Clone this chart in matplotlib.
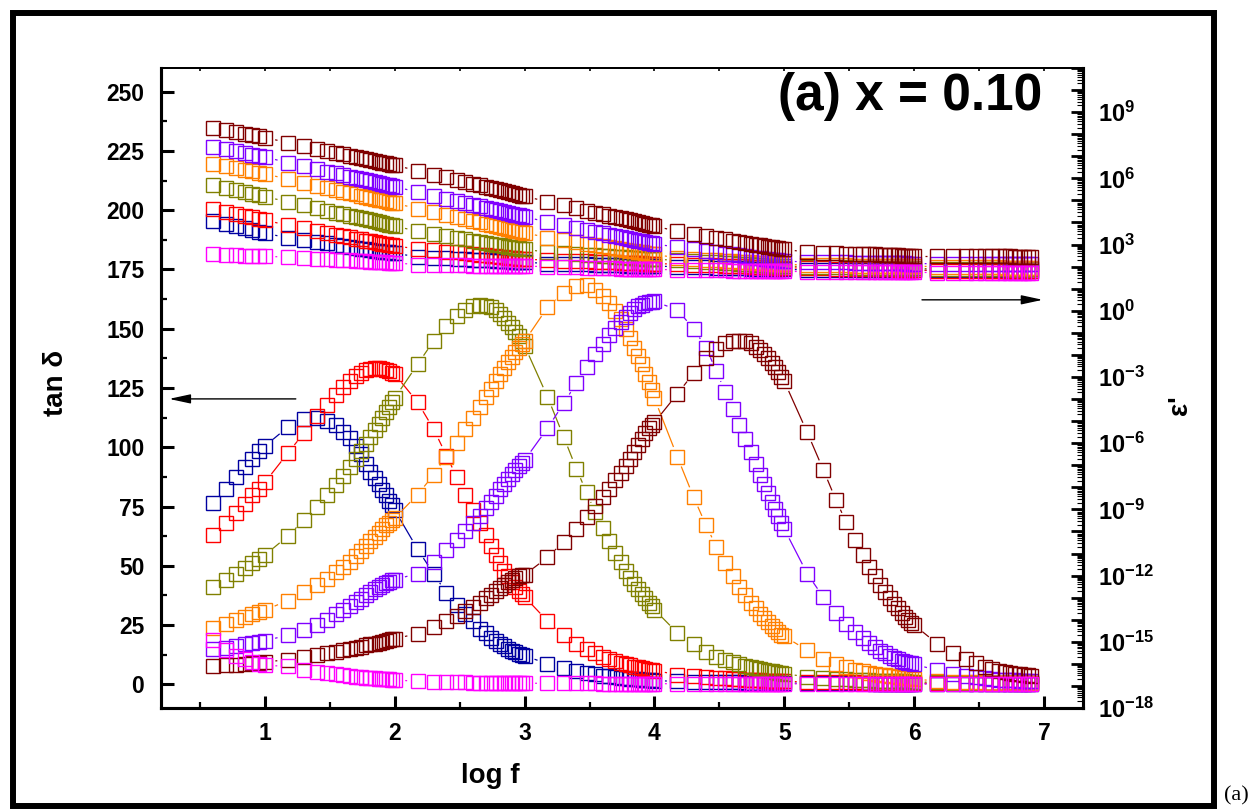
import numpy as np
import matplotlib
matplotlib.use("Agg")
import matplotlib.pyplot as plt
from matplotlib.collections import LineCollection
from matplotlib.patches import Rectangle
from matplotlib.ticker import FixedLocator, FuncFormatter

plt.rcParams["font.family"] = ["Liberation Sans", "DejaVu Sans"]
plt.rcParams["font.weight"] = "bold"
plt.rcParams["mathtext.fontset"] = "custom"
plt.rcParams["mathtext.rm"] = "Liberation Sans:bold"
plt.rcParams["mathtext.bf"] = "Liberation Sans:bold"
plt.rcParams["mathtext.it"] = "Liberation Sans:bold"

# ---- frequency grid (Hz) ----
first_decade = [4, 5, 6, 7, 8, 9, 10]
decade_steps = [1.5, 2, 2.5, 3, 3.5, 4, 4.5, 5, 5.5, 6, 6.5, 7, 7.5, 8, 8.5, 9, 9.5, 10]
last_steps = [1.5, 2, 2.5, 3, 3.5, 4, 4.5, 5, 5.5, 6, 6.5, 7, 7.5, 8]
freq = list(first_decade)
for k in [1, 2, 3, 4, 5]:
    freq += [s * 10 ** k for s in decade_steps]
freq += [s * 1e6 for s in last_steps]
log_f = np.log10(freq)

# ---- tan delta (left axis) ----
tan_blue = [76.6, 82.3, 87.3, 91.5, 95.0, 98.4, 100.5,
            108.5, 112.0, 112.5, 111.0, 109.5, 106.5, 104.0, 100.5, 97.0, 93.0, 89.5, 87.0, 84.5, 82.0, 80.0, 77.5, 75.5, 73.5,
            57.0, 46.5, 38.5, 33.5, 29.5, 26.5, 23.5, 21.5, 19.7, 18.3, 17.0, 16.0, 15.0, 14.2, 13.5, 12.9, 12.4, 12.0,
            8.7, 6.9, 5.6, 4.8, 4.2, 3.7, 3.3, 3.0, 2.8, 2.6, 2.4, 2.3, 2.1, 2.0, 1.9, 1.8, 1.7, 1.6,
            1.2, 1.1, 1.0, 0.95, 0.9, 0.85, 0.8, 0.75, 0.7, 0.68, 0.65, 0.62, 0.6, 0.58, 0.56, 0.54, 0.52, 0.5,
            0.45, 0.42, 0.4, 0.38, 0.36, 0.35, 0.34, 0.33, 0.32, 0.31, 0.3, 0.3, 0.29, 0.28, 0.28, 0.27, 0.27, 0.26,
            0.24, 0.23, 0.22, 0.21, 0.21, 0.2, 0.2, 0.19, 0.19, 0.19, 0.18, 0.18, 0.18, 0.17]
tan_red = [62.9, 67.9, 72.4, 76.0, 79.8, 82.6, 85.2,
           97.5, 106.0, 113.0, 118.0, 122.0, 125.5, 128.0, 130.0, 131.5, 132.5, 133.0, 133.3, 133.3, 133.0, 132.8, 132.3, 131.5, 130.8,
           119.0, 107.5, 96.5, 87.5, 80.0, 73.5, 68.0, 63.0, 58.5, 54.5, 51.0, 48.0, 45.5, 43.2, 41.2, 39.5, 38.0, 36.9,
           26.7, 20.7, 17.2, 14.8, 13.0, 11.7, 10.6, 9.8, 9.1, 8.5, 8.0, 7.5, 7.1, 6.8, 6.5, 6.2, 6.0, 5.8,
           4.1, 3.4, 3.0, 2.7, 2.5, 2.3, 2.1, 2.0, 1.9, 1.8, 1.7, 1.6, 1.5, 1.45, 1.4, 1.35, 1.3, 1.25,
           1.0, 0.9, 0.85, 0.8, 0.76, 0.72, 0.7, 0.68, 0.66, 0.64, 0.63, 0.62, 0.61, 0.6, 0.6, 0.59, 0.59, 0.58,
           0.5, 0.46, 0.44, 0.42, 0.41, 0.4, 0.39, 0.38, 0.38, 0.37, 0.37, 0.36, 0.36, 0.35]
tan_olive = [41.1, 43.9, 46.7, 48.9, 51.2, 52.9, 54.5,
             62.5, 69.3, 75.0, 80.0, 84.0, 88.0, 91.5, 95.0, 98.5, 101.5, 104.5, 107.2, 110.0, 112.5, 114.8, 117.0, 119.0, 120.8,
             135.0, 145.0, 151.0, 155.3, 158.0, 159.5, 160.0, 159.8, 159.0, 157.7, 156.2, 154.5, 152.6, 150.7, 148.8, 146.8, 144.8, 142.8,
             121.3, 104.4, 91.0, 81.0, 72.5, 66.0, 60.5, 55.5, 51.5, 48.0, 45.0, 42.3, 40.0, 38.0, 36.2, 34.5, 33.0, 31.5,
             21.7, 16.9, 13.7, 11.6, 10.3, 9.3, 8.5, 7.9, 7.3, 6.8, 6.4, 6.0, 5.7, 5.4, 5.1, 4.9, 4.7, 4.5,
             3.1, 2.6, 2.3, 2.1, 1.9, 1.8, 1.7, 1.6, 1.5, 1.45, 1.4, 1.35, 1.3, 1.25, 1.2, 1.15, 1.1, 1.05,
             0.8, 0.72, 0.67, 0.63, 0.6, 0.58, 0.56, 0.55, 0.54, 0.53, 0.52, 0.51, 0.5, 0.5]
tan_orange = [23.8, 25.6, 27.0, 28.4, 29.6, 30.5, 31.3,
              35.3, 39.0, 41.8, 44.6, 47.2, 49.6, 51.8, 54.0, 56.2, 58.4, 60.5, 62.3, 64.0, 65.6, 67.0, 68.2, 69.2, 70.2,
              80.0, 88.5, 96.0, 102.0, 107.5, 112.5, 117.0, 121.0, 124.5, 127.8, 130.8, 133.5, 136.0, 138.2, 140.2, 142.0, 143.5, 144.8,
              159.0, 165.2, 168.0, 168.3, 166.5, 164.0, 161.0, 157.5, 154.0, 150.0, 146.0, 142.0, 138.5, 135.0, 131.0, 127.5, 124.0, 120.6,
              96.0, 79.0, 67.0, 58.0, 51.0, 45.6, 41.2, 37.6, 34.5, 32.0, 29.8, 27.9, 26.2, 24.7, 23.3, 22.1, 21.0, 20.2,
              14.4, 10.8, 8.7, 7.2, 6.2, 5.5, 4.9, 4.5, 4.1, 3.8, 3.5, 3.3, 3.1, 2.95, 2.8, 2.65, 2.5, 2.4,
              1.2, 1.0, 0.9, 0.8, 0.75, 0.7, 0.65, 0.6, 0.55, 0.5, 0.5, 0.45, 0.45, 0.4]
tan_violet = [14.7, 15.5, 16.2, 16.8, 17.4, 17.9, 18.4,
              20.7, 22.8, 25.0, 27.3, 29.5, 31.3, 33.0, 34.6, 36.1, 37.5, 38.8, 40.0, 41.0, 41.9, 42.7, 43.3, 43.8, 44.2,
              46.7, 51.6, 56.5, 60.8, 64.5, 68.0, 71.2, 74.2, 77.0, 79.6, 82.2, 84.6, 86.8, 88.8, 90.6, 92.2, 93.5, 94.6,
              108.0, 118.5, 127.0, 134.0, 139.5, 143.6, 147.2, 150.2, 152.8, 155.0, 156.8, 158.2, 159.4, 160.2, 160.8, 161.2, 161.4, 161.5,
              158.0, 150.0, 142.0, 132.0, 123.5, 116.0, 109.5, 103.5, 98.0, 93.0, 88.5, 84.3, 80.5, 77.0, 73.8, 70.8, 68.0, 65.5,
              46.7, 36.7, 30.0, 25.6, 22.2, 19.5, 17.3, 15.6, 14.2, 13.0, 12.0, 11.2, 10.5, 10.0, 9.5, 9.1, 8.8, 8.5,
              5.9, 4.5, 3.5, 2.9, 2.5, 2.2, 2.0, 1.9, 1.8, 1.7, 1.6, 1.5, 1.45, 1.4]
tan_wine = [7.6, 8.0, 8.3, 8.6, 8.9, 9.1, 9.4,
            10.4, 11.4, 12.2, 13.0, 13.7, 14.3, 14.9, 15.4, 15.9, 16.4, 16.8, 17.2, 17.6, 18.0, 18.3, 18.6, 18.9, 19.2,
            21.4, 24.2, 26.5, 28.7, 30.8, 32.7, 34.5, 36.2, 37.8, 39.4, 40.8, 42.1, 43.2, 44.1, 44.9, 45.5, 45.9, 46.2,
            53.5, 60.2, 65.5, 70.6, 75.2, 79.0, 82.6, 86.0, 89.2, 92.2, 95.2, 98.2, 101.0, 103.6, 106.0, 108.0, 109.5, 110.5,
            122.5, 131.2, 137.5, 141.3, 143.8, 144.8, 145.0, 144.7, 143.8, 142.5, 141.0, 139.3, 137.5, 135.6, 133.7, 131.8, 129.8, 127.8,
            106.3, 90.4, 77.7, 68.3, 60.8, 54.5, 49.5, 45.5, 42.0, 39.0, 36.3, 34.0, 32.0, 30.2, 28.6, 27.2, 26.0, 25.0,
            17.2, 13.0, 10.6, 8.8, 7.4, 6.4, 5.7, 5.2, 4.8, 4.5, 4.2, 4.0, 3.8, 3.7]
tan_magenta = [18.5, 14.5, 12.0, 10.5, 9.5, 8.7, 8.0,
               7.6, 6.2, 5.3, 4.7, 4.2, 3.8, 3.5, 3.2, 3.0, 2.8, 2.6, 2.5, 2.4, 2.3, 2.2, 2.1, 2.0, 1.9,
               1.2, 1.0, 0.9, 0.85, 0.8, 0.75, 0.7, 0.68, 0.65, 0.62, 0.6, 0.58, 0.56, 0.54, 0.52, 0.5, 0.48, 0.46,
               0.4, 0.38, 0.36, 0.35, 0.34, 0.33, 0.32, 0.31, 0.3, 0.3, 0.29, 0.29, 0.28, 0.28, 0.27, 0.27, 0.26, 0.26,
               0.24, 0.23, 0.22, 0.22, 0.21, 0.21, 0.2, 0.2, 0.2, 0.19, 0.19, 0.19, 0.18, 0.18, 0.18, 0.18, 0.17, 0.17,
               0.16, 0.16, 0.15, 0.15, 0.15, 0.14, 0.14, 0.14, 0.14, 0.13, 0.13, 0.13, 0.13, 0.13, 0.12, 0.12, 0.12, 0.12,
               0.11, 0.11, 0.11, 0.1, 0.1, 0.1, 0.1, 0.1, 0.1, 0.09, 0.09, 0.09, 0.09, 0.09]

# ---- log10 of epsilon' (right axis) ----
eps_log_blue = [4.07, 3.93, 3.82, 3.73, 3.65, 3.58, 3.51,
                3.31, 3.20, 3.12, 3.05, 2.99, 2.94, 2.90, 2.86, 2.82, 2.79, 2.76, 2.73, 2.71, 2.68, 2.66, 2.64, 2.62, 2.60,
                2.45, 2.41, 2.38, 2.36, 2.34, 2.32, 2.31, 2.29, 2.28, 2.27, 2.26, 2.25, 2.24, 2.23, 2.22, 2.21, 2.21, 2.20,
                2.14, 2.12, 2.11, 2.10, 2.09, 2.08, 2.07, 2.06, 2.06, 2.05, 2.05, 2.04, 2.04, 2.03, 2.03, 2.03, 2.02, 2.02,
                2.00, 1.98, 1.97, 1.95, 1.94, 1.93, 1.92, 1.92, 1.91, 1.90, 1.90, 1.89, 1.89, 1.88, 1.88, 1.88, 1.87, 1.87,
                1.86, 1.86, 1.86, 1.85, 1.85, 1.85, 1.85, 1.85, 1.85, 1.85, 1.84, 1.84, 1.84, 1.84, 1.84, 1.84, 1.84, 1.84,
                1.83, 1.83, 1.83, 1.83, 1.83, 1.83, 1.83, 1.82, 1.82, 1.82, 1.82, 1.82, 1.82, 1.82]
eps_log_red = [4.60, 4.48, 4.38, 4.30, 4.23, 4.17, 4.11,
               3.87, 3.73, 3.62, 3.53, 3.45, 3.38, 3.33, 3.27, 3.23, 3.18, 3.14, 3.11, 3.07, 3.04, 3.01, 2.98, 2.96, 2.93,
               2.81, 2.74, 2.68, 2.64, 2.60, 2.56, 2.53, 2.51, 2.48, 2.46, 2.44, 2.42, 2.40, 2.39, 2.37, 2.36, 2.34, 2.33,
               2.30, 2.27, 2.25, 2.24, 2.22, 2.21, 2.20, 2.19, 2.18, 2.18, 2.17, 2.16, 2.16, 2.15, 2.14, 2.14, 2.13, 2.13,
               2.12, 2.09, 2.07, 2.06, 2.04, 2.03, 2.02, 2.01, 2.00, 2.00, 1.99, 1.98, 1.98, 1.97, 1.96, 1.96, 1.95, 1.95,
               1.93, 1.92, 1.91, 1.90, 1.89, 1.89, 1.88, 1.88, 1.88, 1.87, 1.87, 1.87, 1.86, 1.86, 1.86, 1.85, 1.85, 1.85,
               1.82, 1.82, 1.81, 1.81, 1.81, 1.80, 1.80, 1.80, 1.80, 1.79, 1.79, 1.79, 1.79, 1.79]
eps_log_olive = [5.70, 5.57, 5.47, 5.38, 5.30, 5.23, 5.17,
                 4.94, 4.77, 4.64, 4.54, 4.45, 4.37, 4.30, 4.24, 4.19, 4.14, 4.09, 4.05, 4.01, 3.97, 3.94, 3.90, 3.87, 3.84,
                 3.60, 3.48, 3.38, 3.30, 3.23, 3.18, 3.13, 3.08, 3.04, 3.00, 2.97, 2.93, 2.91, 2.88, 2.85, 2.83, 2.80, 2.78,
                 2.66, 2.61, 2.57, 2.54, 2.51, 2.49, 2.47, 2.45, 2.43, 2.42, 2.41, 2.39, 2.38, 2.37, 2.36, 2.35, 2.34, 2.33,
                 2.29, 2.25, 2.22, 2.19, 2.17, 2.15, 2.13, 2.12, 2.11, 2.09, 2.08, 2.07, 2.06, 2.05, 2.04, 2.04, 2.03, 2.02,
                 2.00, 1.99, 1.98, 1.97, 1.96, 1.96, 1.95, 1.95, 1.95, 1.94, 1.94, 1.94, 1.93, 1.93, 1.93, 1.92, 1.92, 1.92,
                 1.90, 1.90, 1.89, 1.89, 1.89, 1.88, 1.88, 1.88, 1.88, 1.87, 1.87, 1.87, 1.87, 1.87]
eps_log_orange = [6.66, 6.55, 6.46, 6.39, 6.32, 6.26, 6.21,
                  5.96, 5.79, 5.67, 5.56, 5.47, 5.40, 5.33, 5.27, 5.21, 5.16, 5.12, 5.08, 5.04, 5.00, 4.96, 4.93, 4.90, 4.87,
                  4.63, 4.46, 4.34, 4.23, 4.14, 4.07, 4.00, 3.94, 3.88, 3.83, 3.79, 3.75, 3.71, 3.67, 3.63, 3.60, 3.57, 3.54,
                  3.31, 3.19, 3.11, 3.03, 2.97, 2.92, 2.87, 2.83, 2.79, 2.75, 2.72, 2.69, 2.67, 2.64, 2.62, 2.59, 2.57, 2.55,
                  2.40, 2.35, 2.32, 2.29, 2.27, 2.25, 2.23, 2.21, 2.20, 2.18, 2.17, 2.16, 2.15, 2.14, 2.13, 2.12, 2.11, 2.10,
                  2.08, 2.07, 2.06, 2.06, 2.05, 2.05, 2.05, 2.04, 2.04, 2.04, 2.03, 2.03, 2.03, 2.03, 2.03, 2.02, 2.02, 2.02,
                  2.00, 1.99, 1.98, 1.98, 1.97, 1.97, 1.97, 1.96, 1.96, 1.96, 1.96, 1.95, 1.95, 1.95]
eps_log_violet = [7.42, 7.31, 7.22, 7.15, 7.08, 7.02, 6.97,
                  6.71, 6.54, 6.42, 6.31, 6.22, 6.15, 6.08, 6.02, 5.96, 5.91, 5.87, 5.83, 5.79, 5.75, 5.71, 5.68, 5.65, 5.62,
                  5.38, 5.21, 5.08, 4.97, 4.88, 4.80, 4.73, 4.67, 4.61, 4.56, 4.51, 4.47, 4.43, 4.39, 4.36, 4.32, 4.29, 4.26,
                  4.02, 3.87, 3.75, 3.66, 3.58, 3.51, 3.45, 3.39, 3.34, 3.30, 3.26, 3.22, 3.18, 3.15, 3.12, 3.09, 3.06, 3.03,
                  2.88, 2.78, 2.71, 2.65, 2.59, 2.55, 2.51, 2.47, 2.44, 2.41, 2.39, 2.36, 2.34, 2.32, 2.30, 2.28, 2.26, 2.24,
                  2.22, 2.21, 2.20, 2.19, 2.18, 2.18, 2.17, 2.17, 2.17, 2.16, 2.16, 2.16, 2.15, 2.15, 2.15, 2.14, 2.14, 2.14,
                  2.13, 2.13, 2.12, 2.12, 2.12, 2.11, 2.11, 2.11, 2.11, 2.11, 2.10, 2.10, 2.10, 2.10]
eps_log_wine = [8.29, 8.18, 8.10, 8.02, 7.96, 7.90, 7.85,
                7.62, 7.46, 7.34, 7.24, 7.16, 7.09, 7.02, 6.97, 6.92, 6.87, 6.82, 6.78, 6.75, 6.71, 6.68, 6.65, 6.62, 6.59,
                6.35, 6.17, 6.04, 5.93, 5.83, 5.75, 5.68, 5.61, 5.56, 5.50, 5.45, 5.41, 5.37, 5.33, 5.29, 5.26, 5.22, 5.19,
                4.94, 4.77, 4.64, 4.54, 4.45, 4.37, 4.30, 4.24, 4.19, 4.14, 4.09, 4.05, 4.01, 3.97, 3.94, 3.90, 3.87, 3.84,
                3.60, 3.48, 3.38, 3.30, 3.23, 3.18, 3.13, 3.08, 3.04, 3.00, 2.97, 2.93, 2.91, 2.88, 2.85, 2.83, 2.80, 2.78,
                2.66, 2.63, 2.61, 2.59, 2.58, 2.57, 2.56, 2.55, 2.54, 2.53, 2.52, 2.51, 2.51, 2.50, 2.50, 2.49, 2.49, 2.48,
                2.48, 2.48, 2.47, 2.47, 2.47, 2.46, 2.46, 2.46, 2.46, 2.45, 2.45, 2.45, 2.45, 2.45]
eps_log_magenta = [2.55, 2.53, 2.51, 2.50, 2.49, 2.48, 2.47,
                   2.43, 2.39, 2.36, 2.34, 2.31, 2.30, 2.28, 2.26, 2.25, 2.24, 2.23, 2.22, 2.21, 2.20, 2.19, 2.18, 2.18, 2.17,
                   2.09, 2.08, 2.07, 2.06, 2.06, 2.05, 2.05, 2.05, 2.04, 2.04, 2.04, 2.03, 2.03, 2.03, 2.03, 2.02, 2.02, 2.02,
                   2.00, 1.98, 1.97, 1.95, 1.94, 1.93, 1.92, 1.92, 1.91, 1.90, 1.90, 1.89, 1.89, 1.88, 1.88, 1.88, 1.87, 1.87,
                   1.86, 1.85, 1.84, 1.83, 1.83, 1.82, 1.82, 1.81, 1.81, 1.81, 1.80, 1.80, 1.80, 1.80, 1.80, 1.79, 1.79, 1.79,
                   1.77, 1.77, 1.76, 1.76, 1.76, 1.75, 1.75, 1.75, 1.75, 1.75, 1.75, 1.74, 1.74, 1.74, 1.74, 1.74, 1.74, 1.74,
                   1.73, 1.73, 1.73, 1.73, 1.73, 1.73, 1.73, 1.72, 1.72, 1.72, 1.72, 1.72, 1.72, 1.72]

# Origin-like colours
series = [
    ("#0000A0", tan_blue, eps_log_blue),
    ("#FF0000", tan_red, eps_log_red),
    ("#808000", tan_olive, eps_log_olive),
    ("#FF8000", tan_orange, eps_log_orange),
    ("#8000FF", tan_violet, eps_log_violet),
    ("#800000", tan_wine, eps_log_wine),
    ("#FF00FF", tan_magenta, eps_log_magenta),
]

fig = plt.figure(figsize=(12.6, 8.09), dpi=100)
ax = fig.add_axes([161 / 1260, 1 - 708 / 809, (1083 - 161) / 1260, (708 - 68) / 809])
ax2 = ax.twinx()

ax.set_xlim(0.2, 7.3)
ax.set_ylim(-10, 260)
ax2.set_yscale("log")
ax2.set_ylim(1e-18, 1e11)


def gapped_lines(axis, x, y, color, gap=10.5):
    # Origin style: connecting line stops short of each symbol
    pts = axis.transData.transform(np.column_stack([x, y]))
    inv = axis.transData.inverted()
    segs = []
    for p0, p1 in zip(pts[:-1], pts[1:]):
        d = p1 - p0
        dist = np.hypot(d[0], d[1])
        if dist <= 2 * gap + 0.5:
            continue
        u = d / dist
        segs.append(inv.transform([p0 + u * gap, p1 - u * gap]))
    axis.add_collection(LineCollection(segs, colors=color, linewidths=0.9),
                        autolim=False)


for color, tan_vals, eps_vals in series:
    eps_vals = 10 ** np.array(eps_vals)
    gapped_lines(ax, log_f, tan_vals, color)
    ax.plot(log_f, tan_vals, ls="none", marker="s", ms=10, mfc="none",
            mec=color, mew=1.0)
    gapped_lines(ax2, log_f, eps_vals, color)
    ax2.plot(log_f, eps_vals, ls="none", marker="s", ms=10, mfc="none",
             mec=color, mew=1.0)

# ---- axes styling ----
for a in (ax, ax2):
    for side in ("left", "right", "bottom"):
        a.spines[side].set_linewidth(2.2)
    a.spines["top"].set_linewidth(1.2)

ax.set_xticks([1, 2, 3, 4, 5, 6, 7])
ax.set_xticks(np.arange(0.5, 7.5, 1.0), minor=True)
ax.set_yticks(np.arange(0, 251, 25))
ax.set_yticks(np.arange(12.5, 260, 25), minor=True)
ax.tick_params(axis="both", which="major", direction="in", length=9, width=2.2,
               labelsize=16.5, right=False, top=False)
ax.tick_params(axis="both", which="minor", direction="in", length=4.5, width=1.6,
               right=False, top=False)
ax.tick_params(axis="y", which="major", pad=12)
ax.tick_params(axis="x", which="major", pad=10)

top = ax.secondary_xaxis("top")
top.set_xticks(np.arange(0.5, 7.5, 0.5))
top.tick_params(direction="in", length=2.5, width=1.2, labeltop=False)
top.spines["top"].set_linewidth(1.2)

major_exp = list(range(-18, 12))
ax2.yaxis.set_major_locator(FixedLocator([10.0 ** k for k in major_exp]))
ax2.yaxis.set_minor_locator(FixedLocator(
    [m * 10.0 ** k for k in major_exp for m in range(2, 10)]))


def eps_label(v, pos):
    k = int(round(np.log10(v)))
    if k % 3 != 0:
        return ""
    return r"$\mathbf{10^{%d}}$" % k


ax2.yaxis.set_major_formatter(FuncFormatter(eps_label))
ax2.tick_params(axis="y", which="major", direction="in", length=9, width=2.0,
                labelsize=17, pad=11, left=False)
ax2.tick_params(axis="y", which="minor", direction="in", length=4, width=0.8,
                left=False)

fig.text(490 / 1260, 1 - 776 / 809, "log f", ha="center", va="center",
         fontsize=20, fontweight="bold")
fig.text(56 / 1260, 1 - 383 / 809, "tan δ", rotation=90, ha="center", va="center",
         fontsize=20, fontweight="bold")
fig.text(1180 / 1260, 1 - 405 / 809, "ε'", rotation=90, ha="center", va="center",
         fontsize=20, fontweight="bold")

ax.text(0.9555, 0.955, "(a) x = 0.10", transform=ax.transAxes, ha="right",
        va="center", fontsize=37, fontweight="bold")

# direction arrows
ax.annotate("", xy=(0.262, 120.4), xytext=(1.238, 120.4),
            arrowprops=dict(arrowstyle="-|>,head_length=1.3,head_width=0.28",
                            color="black", lw=1.0, shrinkA=0, shrinkB=0,
                            mutation_scale=10))
ax.annotate("", xy=(6.99, 162.2), xytext=(6.06, 162.2),
            arrowprops=dict(arrowstyle="-|>,head_length=1.3,head_width=0.28",
                            color="black", lw=1.0, shrinkA=0, shrinkB=0,
                            mutation_scale=10))

# outer frame and panel tag
fig.add_artist(Rectangle((13 / 1260, 3 / 809), 1201 / 1260, 793 / 809,
                         transform=fig.transFigure, fill=False, lw=4.3,
                         ec="black"))
fig.text(1224 / 1260, 1 - 786 / 809, "(a)", ha="left", va="top", fontsize=16,
         fontweight="normal", family=["Liberation Serif", "DejaVu Serif"])

fig.savefig("out.png", dpi=100)
